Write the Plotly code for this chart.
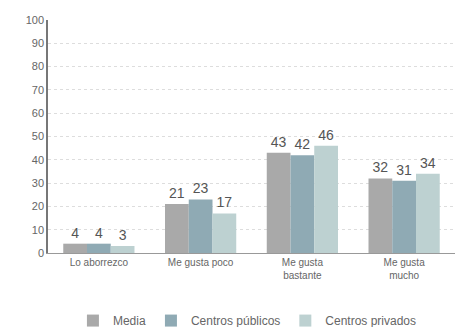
import plotly.graph_objects as go

categorias = ["Lo aborrezco", "Me gusta poco", "Me gusta<br>bastante", "Me gusta<br>mucho"]
media = [4, 21, 43, 32]
publicos = [4, 23, 42, 31]
privados = [3, 17, 46, 34]
ticks_y = [0, 10, 20, 30, 40, 50, 60, 70, 80, 90, 100]

series = [
    ("Media", media, "#a9a9a9"),
    ("Centros públicos", publicos, "#8faab4"),
    ("Centros privados", privados, "#bdd1d1"),
]

fig = go.Figure()
for nombre, valores, color in series:
    fig.add_trace(go.Bar(
        name=nombre, x=categorias, y=valores,
        marker=dict(color=color, line=dict(width=0)),
        text=[str(v) for v in valores], textposition="outside",
        textfont=dict(size=14, color="#555555", family="Liberation Sans"),
        cliponaxis=False,
    ))

fig.update_layout(
    width=457, height=327,
    margin=dict(l=48, r=2, t=20, b=74, autoexpand=False),
    paper_bgcolor="white", plot_bgcolor="white",
    barmode="group", bargap=0.3, bargroupgap=0.0,
    font=dict(family="Liberation Sans", color="#666666"),
    showlegend=True,
    legend=dict(orientation="h", x=0.49, xanchor="center",
                y=-0.29, yanchor="middle",
                font=dict(size=12, color="#666666"),
                itemwidth=30, tracegroupgap=0,
                traceorder="normal"),
)
fig.update_yaxes(
    range=[0, 100], tickvals=ticks_y, showgrid=True,
    gridcolor="#dddddd", griddash="dot", gridwidth=1,
    showline=True, linecolor="#777777", linewidth=1.5,
    ticks="", tickfont=dict(size=11, color="#666666"), zeroline=False,
    automargin=False,
)
fig.update_xaxes(
    showline=True, linecolor="#999999", linewidth=1, ticks="",
    tickfont=dict(size=10, color="#666666"), automargin=False,
)

fig.write_html("out.html")
